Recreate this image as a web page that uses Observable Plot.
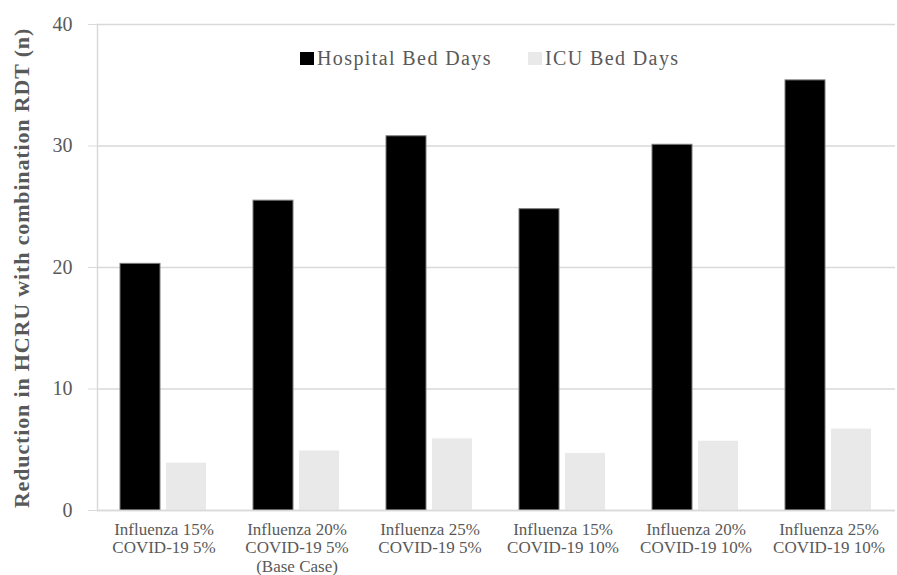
<!DOCTYPE html>
<html><head><meta charset="utf-8">
<script src="https://cdn.jsdelivr.net/npm/d3@7"></script>
<script src="https://cdn.jsdelivr.net/npm/@observablehq/plot@0.6"></script>
<style>
body{margin:0;background:#fff;}
#wrap{position:relative;width:897px;height:575px;overflow:hidden;}
#legend{position:absolute;top:47px;left:300px;font-family:"Liberation Serif",serif;font-size:20px;letter-spacing:1.4px;color:#595959;display:flex;align-items:center;white-space:nowrap;}
#legend .item{display:flex;align-items:center;}
#legend .sw{width:14px;height:13px;margin-right:3px;}
#ytitle{position:absolute;left:22px;top:268px;transform:translate(-50%,-50%) rotate(-90deg);font-family:"Liberation Serif",serif;font-weight:bold;font-size:22px;letter-spacing:0.85px;color:#595959;white-space:nowrap;}
</style></head><body>
<div id="wrap"><div id="chart"></div><div id="legend"></div><div id="ytitle"></div></div>
<script>
const categories = [
  "Influenza 15%\nCOVID-19 5%",
  "Influenza 20%\nCOVID-19 5%\n(Base Case)",
  "Influenza 25%\nCOVID-19 5%",
  "Influenza 15%\nCOVID-19 10%",
  "Influenza 20%\nCOVID-19 10%",
  "Influenza 25%\nCOVID-19 10%"
];
const series = ["Hospital Bed Days", "ICU Bed Days"];
const hospitalBedDays = [20.3, 25.5, 30.8, 24.8, 30.1, 35.4];
const icuBedDays = [3.9, 4.9, 5.9, 4.7, 5.7, 6.7];
const yTicks = [0, 10, 20, 30, 40];
const colors = ["#000000", "#e9e9e9"];
const yTitle = "Reduction in HCRU with combination RDT (n)";

const data = [];
categories.forEach((c, i) => {
  data.push({category: c, series: series[0], value: hospitalBedDays[i]});
  data.push({category: c, series: series[1], value: icuBedDays[i]});
});

const chart = Plot.plot({
  width: 897,
  height: 575,
  marginLeft: 96,
  marginRight: 2,
  marginTop: 24,
  marginBottom: 65,
  style: {fontFamily: "Liberation Serif, serif", background: "white"},
  fx: {domain: categories, padding: 0, label: null},
  x: {domain: series, paddingInner: 0.13, paddingOuter: 0.51, axis: null},
  y: {domain: [0, 40], ticks: yTicks, label: null},
  color: {domain: series, range: colors},
  marks: [
    Plot.gridY(yTicks, {stroke: "#d9d9d9", strokeOpacity: 1, strokeWidth: 1.5}),
    Plot.frame({anchor: "left", stroke: "#d9d9d9", strokeWidth: 1.5, facetAnchor: "left"}),
    Plot.barY(data, {
      fx: "category", x: "series", y: "value", fill: "series",
      stroke: d => d.series === series[0] ? "#7a7a7a" : "none", strokeWidth: 1
    }),
    Plot.ruleY([0], {stroke: "#d9d9d9", strokeWidth: 1.5}),
    Plot.axisY(yTicks, {tickSize: 9, tickPadding: 16, fontSize: 20, fill: "#595959", stroke: "#d9d9d9", label: null}),
    Plot.axisFx({anchor: "bottom", tickSize: 0, tickPadding: 11, fontSize: 17, fill: "#595959", lineHeight: 1.1, label: null})
  ]
});
document.getElementById("chart").appendChild(chart);

const legend = document.getElementById("legend");
series.forEach((s, i) => {
  const item = document.createElement("div");
  item.className = "item";
  if (i > 0) item.style.marginLeft = "36px";
  const sw = document.createElement("span");
  sw.className = "sw";
  sw.style.background = colors[i];
  const t = document.createElement("span");
  t.textContent = s;
  item.appendChild(sw);
  item.appendChild(t);
  legend.appendChild(item);
});
document.getElementById("ytitle").textContent = yTitle;
</script>
</body></html>
